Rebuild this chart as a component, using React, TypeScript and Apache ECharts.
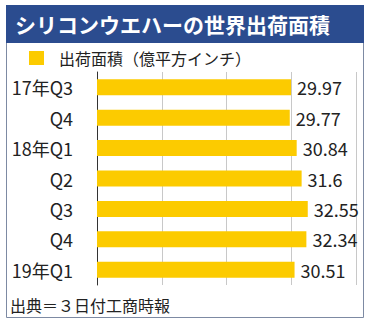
import React, { useEffect, useRef } from "react";
import * as echarts from "echarts";

const categories = ["17年Q3", "Q4", "18年Q1", "Q2", "Q3", "Q4", "19年Q1"];
const values = [29.97, 29.77, 30.84, 31.6, 32.55, 32.34, 30.51];
const seriesName = "出荷面積（億平方インチ）";
const titleText = "シリコンウエハーの世界出荷面積";
const sourceText = "出典＝３日付工商時報";

const FONT = "'Noto Sans CJK JP', 'Noto Sans', sans-serif";

export default function App() {
  const ref = useRef<HTMLDivElement>(null);
  useEffect(() => {
    if (!ref.current) return;
    const chart = echarts.init(ref.current, null, { renderer: "svg" });
    chart.setOption({
      animation: false,
      backgroundColor: "#ffffff",
      textStyle: { fontFamily: FONT },
      graphic: [
        {
          type: "rect",
          shape: { x: 6.5, y: 5.5, width: 357, height: 312 },
          style: { fill: "#ffffff", stroke: "#7d8aa3", lineWidth: 1 },
          z: -10,
        },
        {
          type: "rect",
          shape: { x: 6, y: 5, width: 358, height: 38 },
          style: { fill: "#2b4c8f" },
          z: -5,
        },
        {
          type: "text",
          x: 15,
          y: 24,
          style: {
            text: titleText,
            fill: "#ffffff",
            font: `bold 21px ${FONT}`,
            verticalAlign: "middle",
          },
        },
        {
          type: "text",
          x: 10,
          y: 305,
          style: {
            text: sourceText,
            fill: "#222222",
            font: `16px ${FONT}`,
            verticalAlign: "middle",
          },
        },
      ],
      legend: {
        left: 29,
        top: 50,
        padding: 0,
        icon: "rect",
        itemWidth: 15,
        itemHeight: 14,
        itemGap: 10,
        textStyle: { fontSize: 16, color: "#222222", fontFamily: FONT, padding: [0, 0, 0, 10] },
        data: [seriesName],
      },
      grid: { left: 97, top: 72, width: 259, height: 213, containLabel: false },
      xAxis: {
        type: "value",
        min: 0,
        max: 40,
        interval: 10,
        axisLine: { show: false },
        axisTick: { show: false },
        axisLabel: { show: false },
        splitLine: { show: true, lineStyle: { color: "#c8c8c8", width: 1 } },
      },
      yAxis: {
        type: "category",
        data: categories,
        inverse: true,
        axisLine: { show: true, lineStyle: { color: "#333333", width: 1 } },
        axisTick: { show: false },
        axisLabel: { margin: 24, fontSize: 18, color: "#222222", fontFamily: FONT },
      },
      series: [
        {
          name: seriesName,
          type: "bar",
          data: values,
          barWidth: 16,
          itemStyle: { color: "#fccb00" },
          label: {
            show: true,
            position: "right",
            distance: 6,
            fontSize: 18,
            color: "#222222",
            fontFamily: FONT,
          },
        },
      ],
    });
    return () => chart.dispose();
  }, []);
  return (
    <div
      ref={ref}
      style={{ position: "fixed", left: 0, top: 0, width: 370, height: 323 }}
    />
  );
}
